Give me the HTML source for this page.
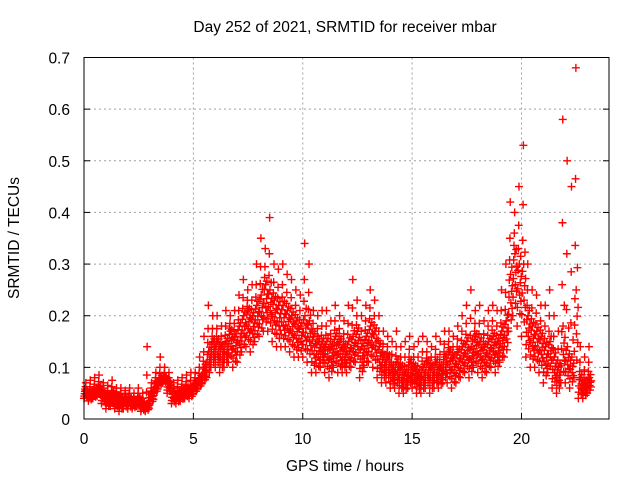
<!DOCTYPE html>
<html><head><meta charset="utf-8"><style>
body{margin:0;background:#fff}
svg{display:block;font-family:"Liberation Sans",sans-serif;font-size:15.5px}
</style></head><body>
<svg id="c" width="640" height="480"></svg>
<script>
const hours=[0,5,10,15,20];
const yTicks=[0,0.1,0.2,0.3,0.4,0.5,0.6,0.7];
const yTickLabels=["0","0.1","0.2","0.3","0.4","0.5","0.6","0.7"];
const midVals=[.055,.05,.055,.06,.05,.045,.05,.045,.04,.04,.04,.035,.04,.03,.03,.05,.07,.08,.08,.07,.05,.05,.055,.06,.06,.07,.08,.1,.13,.15,.15,.14,.15,.17,.16,.18,.2,.21,.2,.22,.24,.26,.25,.23,.22,.22,.21,.2,.19,.18,.2,.19,.16,.15,.15,.15,.14,.16,.15,.14,.15,.16,.17,.14,.16,.18,.17,.14,.12,.12,.1,.11,.1,.09,.11,.1,.09,.1,.11,.1,.11,.1,.12,.13,.12,.13,.14,.15,.14,.16,.15,.14,.15,.16,.15,.17,.19,.28,.32,.3,.3,.2,.18,.17,.16,.14,.15,.12,.1,.18,.14,.12,.25,.08,.07,.08];
const loVals=[.04,.035,.04,.045,.03,.02,.025,.02,.015,.02,.02,.02,.025,.015,.015,.03,.05,.065,.07,.05,.03,.03,.035,.04,.04,.05,.06,.07,.08,.1,.1,.09,.1,.11,.1,.11,.13,.14,.13,.15,.16,.17,.17,.15,.14,.14,.14,.13,.12,.12,.12,.11,.09,.09,.1,.09,.08,.1,.09,.09,.09,.1,.11,.08,.1,.11,.1,.08,.07,.07,.06,.06,.05,.05,.06,.06,.05,.05,.06,.05,.06,.06,.07,.07,.06,.07,.08,.09,.08,.1,.09,.08,.09,.1,.09,.11,.12,.17,.2,.18,.16,.12,.1,.1,.09,.07,.09,.06,.05,.07,.07,.06,.08,.04,.04,.05];
const hiVals=[.07,.075,.08,.085,.07,.065,.075,.06,.06,.055,.06,.05,.06,.05,.14,.07,.09,.12,.1,.09,.07,.075,.08,.085,.09,.09,.12,.16,.22,.2,.2,.18,.21,.2,.21,.24,.27,.25,.26,.3,.35,.33,.39,.3,.29,.3,.28,.27,.25,.24,.34,.3,.21,.2,.21,.21,.19,.22,.2,.19,.22,.27,.23,.2,.22,.25,.23,.2,.17,.16,.15,.17,.14,.15,.16,.14,.15,.16,.15,.14,.16,.15,.17,.17,.16,.18,.2,.22,.25,.21,.22,.19,.21,.22,.21,.25,.3,.42,.4,.45,.53,.3,.25,.24,.22,.22,.25,.2,.17,.58,.5,.45,.68,.14,.12,.14];
const step=0.2;
const L=84,R=609,T=57.5,B=419,XMAX=24,YMAX=0.7;
const X=t=>L+t/XMAX*(R-L), Y=v=>B-v/YMAX*(B-T);
const svg=document.getElementById('c');
const NS='http://www.w3.org/2000/svg';
function mk(tag,attrs,parent){const e=document.createElementNS(NS,tag);for(const k in attrs)e.setAttribute(k,attrs[k]);(parent||svg).appendChild(e);return e;}
yTicks.forEach((v,i)=>{
 if(i>0&&i<yTicks.length-1){const g=mk('line',{x1:L,x2:R,y1:Y(v),y2:Y(v),stroke:'#a0a0a0','stroke-dasharray':'2,3'});
 
 }
 const tk=mk('line',{x1:L,x2:L+6,y1:Y(v),y2:Y(v),stroke:'#000'});
 const tk2=mk('line',{x1:R-6,x2:R,y1:Y(v),y2:Y(v),stroke:'#000'});
 const t=mk('text',{x:L-14,y:Y(v)+6,'text-anchor':'end',fill:'#000'});t.textContent=yTickLabels[i];
 
 
});
hours.forEach(h=>{
 if(h>0){const g=mk('line',{x1:X(h),x2:X(h),y1:T,y2:B,stroke:'#a0a0a0','stroke-dasharray':'2,3'});
 
 }
 const tk=mk('line',{x1:X(h),x2:X(h),y1:B,y2:B-6,stroke:'#000'});
 const t=mk('text',{x:X(h),y:B+25,'text-anchor':'middle',fill:'#000'});t.textContent=String(h);
 
 
});
const g=mk('g',{stroke:'#f00','stroke-width':1.4,fill:'none'});


function plus(t,v){const p=mk('path',{d:`M${X(t)-4} ${Y(v)}h8M${X(t)} ${Y(v)-4}v8`},g);
 
 }
const fr=[0,0.15,0.3,0.45,0.6,0.75,1,0.5,0.25,0.1,0.35,0.55,0.2,0.4];
midVals.forEach((v,i)=>{const t=i*step;const lo=loVals[i],hi=hiVals[i];
 fr.forEach((f,k)=>{const val=f<=0.5?lo+(v-lo)*f*2:v+(hi-v)*(f-0.5)*2;plus(t+k*step/fr.length,val);});
});
const frame=mk('rect',{x:L,y:T,width:R-L,height:B-T,fill:'none',stroke:'#000'});


const title=mk('text',{x:345,y:32,'text-anchor':'middle',fill:'#000'});title.textContent='Day 252 of 2021, SRMTID for receiver mbar';


const xl=mk('text',{x:345,y:471,'text-anchor':'middle',fill:'#000'});xl.textContent='GPS time / hours';


const yl=mk('text',{x:0,y:0,'text-anchor':'middle',fill:'#000',transform:'translate(19,238) rotate(-90)'});yl.textContent='SRMTID / TECUs';


</script>
</body></html>
